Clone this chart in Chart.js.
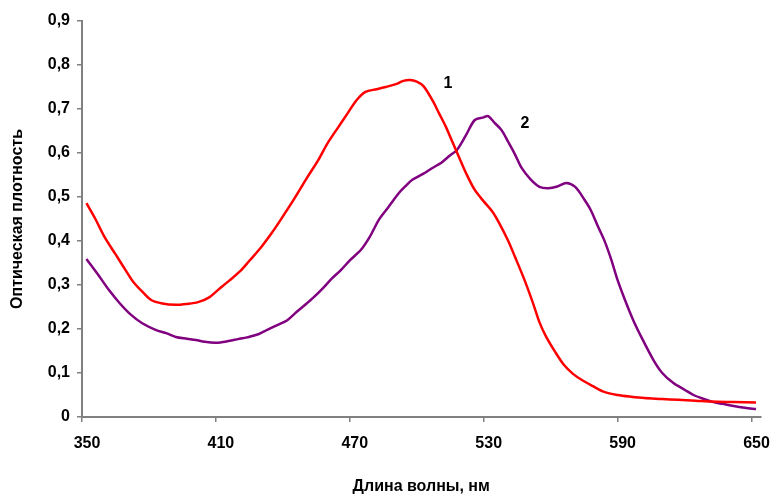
<!DOCTYPE html>
<html>
<head>
<meta charset="utf-8">
<script src="https://cdn.jsdelivr.net/npm/chart.js@4/dist/chart.umd.min.js"></script>
<style>
  html, body { margin: 0; padding: 0; background: #fff; }
  #wrap { width: 777px; height: 497px; }
</style>
</head>
<body>
<div id="wrap"><canvas id="c"></canvas></div>
<script>
// длина волны (нм) и оптическая плотность
const wl1 = [352, 356, 360, 365, 370, 373, 377, 381, 386, 392, 397, 402, 407, 411, 416, 421, 425, 430, 435, 439,
  445, 451, 456, 460, 465, 469, 473, 477, 482, 486, 491, 494, 497, 500, 503, 507, 510, 513, 516, 519,
  522, 526, 530, 534, 537, 541, 544, 548, 552, 555, 558, 562, 566, 570, 574, 579, 584, 590, 596, 602,
  610, 617, 625, 632, 642, 652];
const od1 = [0.486, 0.45, 0.41, 0.37, 0.33, 0.307, 0.285, 0.266, 0.258, 0.255, 0.257, 0.261, 0.272, 0.289, 0.31, 0.332, 0.355, 0.384, 0.418, 0.448,
  0.495, 0.545, 0.585, 0.622, 0.66, 0.69, 0.72, 0.739, 0.745, 0.75, 0.757, 0.764, 0.766, 0.762, 0.752, 0.72, 0.69, 0.66, 0.625, 0.59,
  0.555, 0.516, 0.49, 0.466, 0.44, 0.40, 0.364, 0.315, 0.26, 0.215, 0.182, 0.148, 0.118, 0.098, 0.084, 0.07, 0.057, 0.05, 0.046, 0.043,
  0.041, 0.039, 0.037, 0.035, 0.034, 0.033];

const wl2 = [352, 357, 362, 367, 372, 377, 383, 388, 392, 397, 401, 405, 410, 415, 420, 424, 429, 433, 438, 442,
  446, 450, 454, 458, 462, 466, 470, 475, 479, 483, 487, 492, 495, 498, 503, 507, 511, 515, 518, 522,
  526, 530, 532, 535, 538, 541, 544, 547, 551, 555, 559, 563, 567, 571, 575, 578, 581, 584, 587, 590,
  593, 597, 601, 606, 610, 615, 620, 624, 628, 632, 637, 642, 647, 652];
const od2 = [0.359, 0.325, 0.289, 0.258, 0.232, 0.213, 0.198, 0.19, 0.182, 0.178, 0.175, 0.171, 0.169, 0.172, 0.177, 0.181, 0.188, 0.198, 0.21, 0.22,
  0.238, 0.255, 0.273, 0.293, 0.315, 0.334, 0.356, 0.38, 0.41, 0.448, 0.475, 0.509, 0.525, 0.539, 0.553, 0.566, 0.578, 0.595, 0.607, 0.64,
  0.675, 0.681, 0.684, 0.668, 0.652, 0.625, 0.597, 0.566, 0.54, 0.523, 0.52, 0.524, 0.532, 0.523, 0.495, 0.47, 0.435, 0.402, 0.36, 0.311,
  0.27, 0.22, 0.178, 0.13, 0.1, 0.077, 0.062, 0.05, 0.042, 0.035, 0.03, 0.025, 0.021, 0.018];

const xTicks = [350, 410, 470, 530, 590, 650];
const yTicks = [0, 0.1, 0.2, 0.3, 0.4, 0.5, 0.6, 0.7, 0.8, 0.9];

// подписи кривых
const curveNames = ['1', '2'];
const nameX = [514, 548.5];
const nameY = [0.757, 0.667];

const FONT = '"Liberation Sans", Arial, sans-serif';
const toPts = (xs, ys) => xs.map((x, i) => ({ x: x, y: ys[i] }));

const curveLabels = {
  id: 'curveLabels',
  afterDatasetsDraw(chart) {
    const { ctx, scales } = chart;
    ctx.save();
    ctx.font = 'bold 16px ' + FONT;
    ctx.fillStyle = '#000';
    ctx.textAlign = 'center';
    ctx.textBaseline = 'middle';
    curveNames.forEach((t, i) => {
      ctx.fillText(t, scales.x.getPixelForValue(nameX[i]), scales.y.getPixelForValue(nameY[i]));
    });
    ctx.restore();
  }
};

new Chart(document.getElementById('c'), {
  type: 'line',
  data: {
    datasets: [
      {
        label: '1',
        data: toPts(wl1, od1),
        borderColor: '#ff0000',
        borderWidth: 2.5,
        pointRadius: 0,
        tension: 0.3,
      },
      {
        label: '2',
        data: toPts(wl2, od2),
        borderColor: '#800080',
        borderWidth: 2.5,
        pointRadius: 0,
        tension: 0.3,
      },
    ],
  },
  options: {
    responsive: true,
    maintainAspectRatio: false,
    animation: false,
    layout: { padding: { top: 21, right: 10, bottom: 0, left: 0 } },
    plugins: { legend: { display: false }, tooltip: { enabled: false } },
    scales: {
      x: {
        type: 'linear',
        min: 350,
        max: 654,
        afterBuildTicks: (s) => { s.ticks = xTicks.map(v => ({ value: v })); },
        afterFit: (s) => { s.height = 80; },
        grid: { drawOnChartArea: false, color: '#808080', tickLength: 5, lineWidth: 1.5 },
        border: { color: '#808080', width: 2 },
        ticks: {
          color: '#000',
          padding: 12,
          labelOffset: 5,
          maxRotation: 0,
          font: { family: FONT, size: 16, weight: 'bold' },
        },
        title: {
          display: true,
          text: 'Длина волны, нм',
          color: '#000',
          padding: { top: 0, bottom: 1 },
          font: { family: FONT, size: 16, weight: 'bold' },
        },
      },
      y: {
        min: 0,
        max: 0.9,
        afterBuildTicks: (s) => { s.ticks = yTicks.map(v => ({ value: v })); },
        afterFit: (s) => { s.width = 82; },
        grid: { drawOnChartArea: false, color: '#808080', tickLength: 5, lineWidth: 1.5 },
        border: { color: '#808080', width: 2 },
        ticks: {
          color: '#000',
          padding: 7,
          font: { family: FONT, size: 16, weight: 'bold' },
          callback: (v) => v === 0 ? '0' : v.toFixed(1).replace('.', ','),
        },
        title: {
          display: true,
          text: 'Оптическая плотность',
          color: '#000',
          padding: { top: 8, bottom: 0 },
          font: { family: FONT, size: 16, weight: 'bold' },
        },
      },
    },
  },
  plugins: [curveLabels],
});
</script>
</body>
</html>
